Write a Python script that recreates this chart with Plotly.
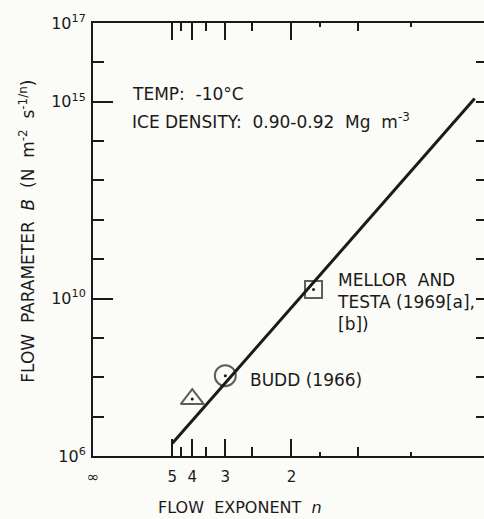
import plotly.graph_objects as go

# ---- data ----
n_line = [5.0, 1.04]
B_line = [2.1e6, 1.2e15]

n_pts = [4.0, 3.0, 1.8]
B_pts = [2.8e7, 1.1e8, 1.7e10]
pt_symbols = ["triangle-up-open", "circle-open", "square-open"]
pt_sizes = [20, 21, 17]

n_major = [5, 4, 3, 2]
n_minor = [4.5, 3.5, 2.5, 1.5]
n_tiny = [1.75, 1.25]
x_major_text = ["∞", "5", "4", "3", "2"]

y_label_exp = [6, 10, 15, 17]
y_decades = list(range(7, 17))

BG = "#fbfbf7"
INK = "#1a1a1a"
FONT = "DejaVu Sans"


def inv(v):
    return [1.0 / x for x in v]


fig = go.Figure()

# fitted line
fig.add_trace(go.Scatter(x=inv(n_line), y=B_line, mode="lines",
                         line=dict(color=INK, width=3), hoverinfo="skip",
                         showlegend=False))
# open markers
fig.add_trace(go.Scatter(x=inv(n_pts), y=B_pts, mode="markers",
                         marker=dict(symbol=pt_symbols, size=pt_sizes, color=INK,
                                     line=dict(color=INK, width=2)),
                         hoverinfo="skip", showlegend=False))
# centre dots
fig.add_trace(go.Scatter(x=inv(n_pts), y=B_pts, mode="markers",
                         marker=dict(symbol="circle", size=3, color=INK),
                         hoverinfo="skip", showlegend=False))

# dummy traces so extra axes are drawn
for xa, ya in [("x2", "y"), ("x3", "y"), ("x4", "y"), ("x", "y2")]:
    fig.add_trace(go.Scatter(x=[None], y=[None], xaxis=xa, yaxis=ya,
                             showlegend=False, hoverinfo="skip"))

XR = [0, 0.985]
YR = [6, 17]

common_x = dict(range=XR, showgrid=False, zeroline=False, automargin=False,
                tickcolor=INK, tickwidth=1.5, ticks="inside")

fig.update_layout(
    width=484, height=519,
    margin=dict(l=93, r=0, t=23, b=63),
    paper_bgcolor=BG, plot_bgcolor=BG,
    font=dict(family=FONT, color=INK),
    showlegend=False,
    xaxis=dict(**common_x, showline=True, linecolor=INK, linewidth=2,
               tickmode="array", tickvals=[0.0] + inv(n_major), ticktext=x_major_text,
               ticklen=17, tickfont=dict(size=15, family=FONT, color=INK),
               ticklabelstandoff=6,
               minor=dict(tickmode="array", tickvals=inv(n_minor), ticks="inside",
                          ticklen=9, tickwidth=1.5, tickcolor=INK, showgrid=False)),
    xaxis3=dict(**common_x, overlaying="x", side="bottom", anchor="y", showline=False,
                tickmode="array", tickvals=inv(n_tiny), ticklen=4, showticklabels=False),
    xaxis2=dict(**common_x, overlaying="x", side="top", anchor="y", showline=True,
                linecolor=INK, linewidth=2,
                tickmode="array", tickvals=inv(n_major), ticklen=17, showticklabels=False,
                minor=dict(tickmode="array", tickvals=inv(n_minor), ticks="inside",
                           ticklen=8, tickwidth=1.5, tickcolor=INK, showgrid=False)),
    xaxis4=dict(**common_x, overlaying="x", side="top", anchor="y", showline=False,
                tickmode="array", tickvals=inv(n_tiny), ticklen=4, showticklabels=False),
    yaxis=dict(type="log", range=YR, showgrid=False, zeroline=False, automargin=False,
               showline=True, linecolor=INK, linewidth=2, ticks="inside",
               tickcolor=INK, tickwidth=1.5, ticklen=20,
               tickmode="array", tickvals=[10 ** e for e in y_label_exp],
               ticktext=["10<sup>%d</sup>" % e for e in y_label_exp],
               tickfont=dict(size=16, family=FONT, color=INK),
               ticklabelstandoff=2,
               minor=dict(tickmode="array", tickvals=[10 ** e for e in y_decades],
                          ticks="inside", ticklen=11, tickwidth=1.5, tickcolor=INK,
                          showgrid=False)),
    yaxis2=dict(type="log", range=YR, overlaying="y", side="right", anchor="x",
                showgrid=False, zeroline=False, automargin=False, showline=False,
                ticks="inside", tickcolor=INK, tickwidth=1.5, ticklen=8,
                tickmode="array", tickvals=[10 ** e for e in y_decades],
                showticklabels=False),
)

ann_font = dict(family=FONT, size=17, color=INK)
fig.add_annotation(x=0.093, y=15.19, xref="x", yref="y", text="TEMP:  -10°C",
                   showarrow=False, xanchor="left", yanchor="middle", font=ann_font)
fig.add_annotation(x=0.093, y=14.52, xref="x", yref="y",
                   text="ICE DENSITY:  0.90-0.92  Mg  m<sup>-3</sup>",
                   showarrow=False, xanchor="left", yanchor="middle", font=ann_font)
fig.add_annotation(x=0.61, y=9.91, xref="x", yref="y",
                   text="MELLOR  AND<br>TESTA (1969[a],<br>[b])", align="left",
                   showarrow=False, xanchor="left", yanchor="middle", font=ann_font)
fig.add_annotation(x=0.39, y=7.93, xref="x", yref="y", text="BUDD (1966)",
                   showarrow=False, xanchor="left", yanchor="middle", font=ann_font)

# axis titles
fig.add_annotation(x=-0.169, y=0.52, xref="paper", yref="paper", textangle=-90,
                   text="FLOW  PARAMETER  <i>B</i>  (N  m<sup>-2</sup>  s<sup>-1/n</sup>)",
                   showarrow=False, xanchor="center", yanchor="middle",
                   font=dict(family=FONT, size=17, color=INK))
fig.add_annotation(x=0.376, y=-0.12, xref="paper", yref="paper",
                   text="FLOW  EXPONENT  <i>n</i>",
                   showarrow=False, xanchor="center", yanchor="middle",
                   font=dict(family=FONT, size=16, color=INK))

fig.write_html(
    "out.html",
    config={"displayModeBar": False},
    post_script="document.body.style.margin='0';document.body.style.overflow='hidden';",
)
